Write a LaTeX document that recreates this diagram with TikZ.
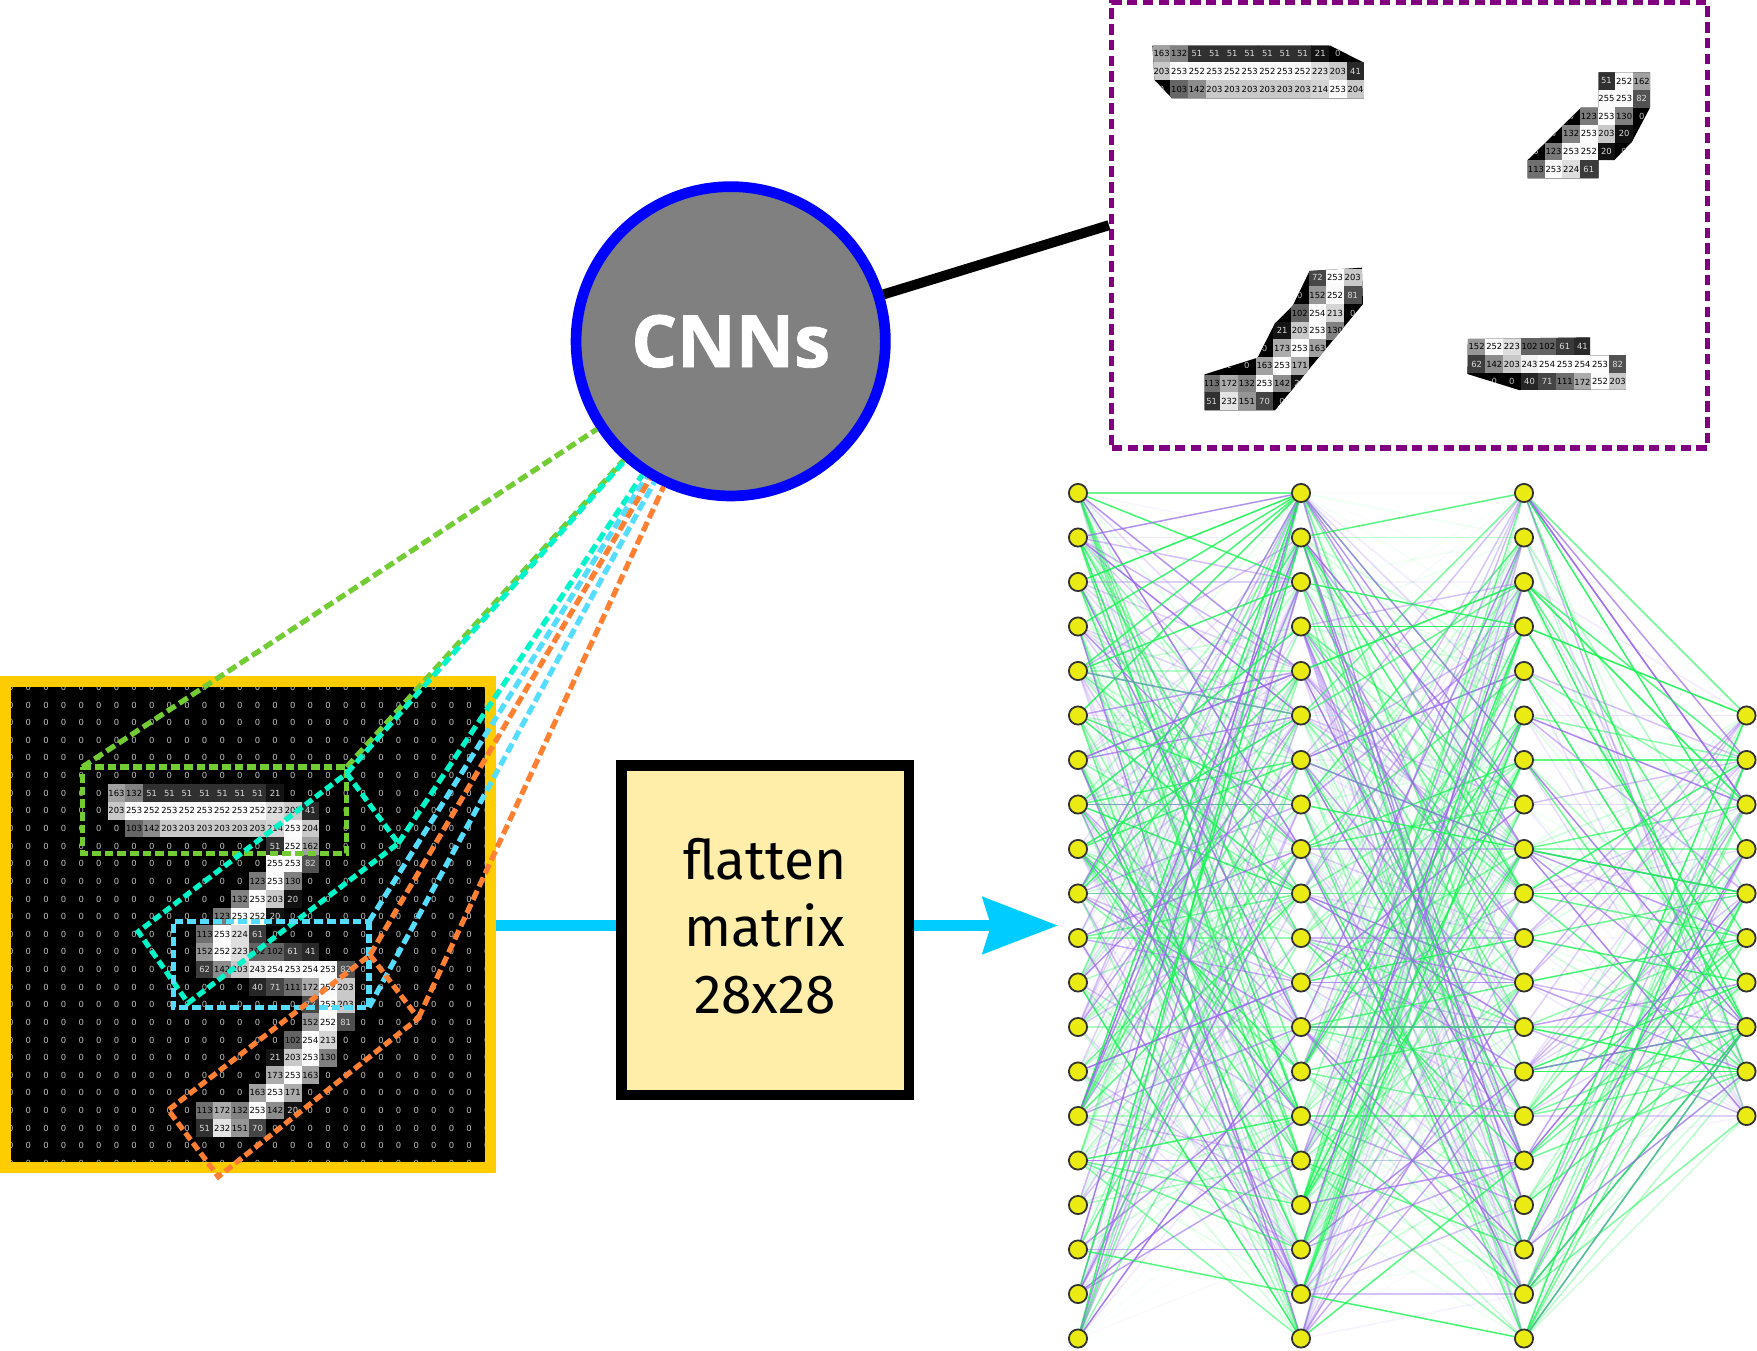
\documentclass[tikz,border=0pt]{standalone}
\usepackage{fontspec}
\setmainfont{Fira Sans}
\newfontfamily\cellfont{DejaVu Sans}
\newfontfamily\cnnfont[BoldFeatures={FakeBold=1.2}]{Open Sans}
\usetikzlibrary{arrows.meta,backgrounds}

\definecolor{frameyellow}{HTML}{FFCC00}
\definecolor{boxyellow}{HTML}{FFEEAA}
\definecolor{arrowblue}{HTML}{00CCFF}
\definecolor{panelpurple}{HTML}{800080}
\definecolor{dashgreen}{HTML}{73CC33}
\definecolor{dashteal}{HTML}{00F5C8}
\definecolor{dashblue}{HTML}{55DDFF}
\definecolor{dashorange}{HTML}{FF8033}
\definecolor{wgreen}{HTML}{14F550}
\definecolor{wpurple}{HTML}{9966EE}
\definecolor{neuronfill}{HTML}{EBEB14}
\definecolor{celllight}{gray}{0.85}
\definecolor{zerogray}{gray}{0.75}

\tikzset{
  zerocell/.style={text=zerogray, inner sep=0pt, font=\cellfont\fontsize{8.4}{8.4}\selectfont},
  valcell/.style={minimum size=17.8pt, inner sep=0pt, outer sep=0pt, font=\cellfont\fontsize{8.4}{8.4}\selectfont},
  roidash/.style={line width=5.2pt, dash pattern=on 8.7pt off 4pt},
  roiline/.style={line width=5.2pt, dash pattern=on 10pt off 4.5pt},
  neuron/.style={circle, draw=black!80, fill=neuronfill, line width=1.8pt, minimum size=18.2pt, inner sep=0pt},
  wg/.style={draw=wgreen, line width=1.5pt},
  wp/.style={draw=wpurple, line width=1.5pt}
}

% rows of the digit: row/first column/values
\def\digitrows{6/6/{163,132,51,51,51,51,51,51,51,21},
  7/6/{203,253,252,253,252,253,252,253,252,223,203,41},
  8/7/{103,142,203,203,203,203,203,203,214,253,204},
  9/15/{51,252,162},
  10/15/{255,253,82},
  11/14/{123,253,130},
  12/13/{132,253,203,20},
  13/12/{123,253,252,20},
  14/11/{113,253,224,61},
  15/11/{152,252,223,102,102,61,41},
  16/11/{62,142,203,243,254,253,254,253,82},
  17/14/{40,71,111,172,252,203},
  18/17/{72,253,203},
  19/17/{152,252,81},
  20/16/{102,254,213},
  21/15/{21,203,253,130},
  22/15/{173,253,163},
  23/14/{163,253,171},
  24/11/{113,172,132,253,142,20},
  25/11/{51,232,151,70}}

% black ground with zeros and grey cells, rows #1..#2, columns #3..#4
\newcommand{\digitcells}[4]{%
  \foreach \r in {#1,...,#2}
    \foreach \c in {#3,...,#4}
      \node[zerocell] (zero-\r-\c) at ({10.7+\c*17.63},{687.4+\r*17.63}) {0};
  \foreach \rw/\cs/\vals in \digitrows {
    \foreach \v [count=\n from 0] in \vals {
      \pgfmathtruncatemacro\cc{\cs+\n}
      \pgfmathtruncatemacro\pct{\v/2.55}
      \pgfmathtruncatemacro\keep{(\rw>=#1)*(\rw<=#2)*(\cc>=#3)*(\cc<=#4)}
      \ifnum\keep=1
        \ifnum\v<102 \def\txtcol{celllight}\else\def\txtcol{black}\fi
        \node[valcell, fill=white!\pct!black, text=\txtcol] (val-\rw-\cc) at ({10.7+\cc*17.63},{687.4+\rw*17.63}) {\v};
      \fi
    }
  }
}

\begin{document}
\begin{tikzpicture}[x=1pt,y=-1pt]
\useasboundingbox (0,0) rectangle (1757,1350);

% digit image
\begin{scope}
\clip (5,682) rectangle (490,1167);
\fill[black] (5,682) rectangle (490,1167);
\digitcells{0}{27}{0}{27}
\end{scope}

% cut-outs in the panel
\begin{scope}
\clip (1152.4,45.7) -- (1330.4,45.7) -- (1363.9,62.7) -- (1363.9,98.3) -- (1172,98.3) -- (1154.5,80) -- cycle;
\fill[black] (1100,0) rectangle (1757,500);
\begin{scope}[shift={(1045.1,-739.5)}]
\digitcells{6}{8}{6}{17}
\end{scope}
\end{scope}
\begin{scope}
\clip (1598.5,72.3) -- (1650,72.3) -- (1650,107.7) -- (1632,141.7) -- (1614.5,160) -- (1598.5,160) -- (1598.5,178.3) -- (1527.7,178.3) -- (1527.7,160) -- (1581,107.7) -- (1598.5,107.7) -- cycle;
\fill[black] (1100,0) rectangle (1757,500);
\begin{scope}[shift={(1331.3,-765.1)}]
\digitcells{9}{14}{11}{17}
\end{scope}
\end{scope}
\begin{scope}
\clip (1309.5,271) -- (1361.8,267.7) -- (1363,304) -- (1275,410.3) -- (1204.7,410.3) -- (1204.7,374.3) -- (1257.5,357.7) -- (1275,323.3) -- (1292.7,305.7) -- cycle;
\fill[black] (1100,0) rectangle (1757,500);
\begin{scope}[shift={(1007,-727)}]
\digitcells{18}{25}{11}{19}
\end{scope}
\end{scope}
\begin{scope}
\clip (1467.8,339) -- (1590.2,337.3) -- (1590.2,355.3) -- (1625.8,355.3) -- (1625.8,389.3) -- (1519,390) -- (1467.4,374) -- cycle;
\fill[black] (1100,0) rectangle (1757,500);
\begin{scope}[shift={(1272,-605.2)}]
\digitcells{15}{17}{11}{19}
\end{scope}
\end{scope}

\node[draw=frameyellow, line width=11pt, minimum width=485pt, minimum height=486pt] (digit) at (248,924.5) {};
\node[draw=panelpurple, line width=5.5pt, dash pattern=on 10.5pt off 5.3pt, minimum width=595.8pt, minimum height=445.7pt] (panel) at (1409.6,225.2) {};
\node[circle, draw=blue, fill=black!50, line width=10.7pt, minimum size=309.3pt, text=white, font=\cnnfont\bfseries\fontsize{72}{72}\selectfont] (cnn) at (730.7,341.3) {CNNs};
\draw[line width=10pt] (cnn) -- (panel.west);

% regions and their lines to the circle
\coordinate (gA) at (82.3,767);
\coordinate (gB) at (346.7,767);
\coordinate (gC) at (346.7,853.3);
\coordinate (gD) at (82.3,853.3);
\draw[roidash, dashgreen] (gA) -- (gB) -- (gC) -- (gD) -- cycle;
\draw[roiline, dashgreen] (gA) -- (cnn);
\draw[roiline, dashgreen] (gB) -- (cnn);
\coordinate (tA) at (346.7,773.3);
\coordinate (tB) at (398.3,843.3);
\coordinate (tC) at (188,1003);
\coordinate (tD) at (138.3,931.7);
\draw[roidash, dashteal] (tA) -- (tB) -- (tC) -- (tD) -- cycle;
\draw[roiline, dashteal] (tA) -- (cnn);
\draw[roiline, dashteal] (tB) -- (cnn);
\coordinate (bA) at (369,921.7);
\coordinate (bB) at (369,1007.3);
\coordinate (bC) at (173.3,1007.3);
\coordinate (bD) at (173.3,921.7);
\draw[roidash, dashblue] (bA) -- (bB) -- (bC) -- (bD) -- cycle;
\draw[roiline, dashblue] (bA) -- (cnn);
\draw[roiline, dashblue] (bB) -- (cnn);
\coordinate (oA) at (370,955);
\coordinate (oB) at (418.3,1018.3);
\coordinate (oC) at (218.3,1176.7);
\coordinate (oD) at (168.3,1110);
\draw[roidash, dashorange] (oA) -- (oB) -- (oC) -- (oD) -- cycle;
\draw[roiline, dashorange] (oA) -- (cnn);
\draw[roiline, dashorange] (oB) -- (cnn);

% flatten step
\coordinate (tip) at (1058,925.5);
\draw[arrowblue, line width=10.7pt, -{Stealth[length=75pt,width=56pt,inset=8pt]}] (digit.east |- tip) -- (tip);
\node[draw=black, fill=boxyellow, line width=10.5pt, minimum width=287.5pt, minimum height=329.5pt, align=center, font=\fontsize{55}{67}\selectfont] (flatten) at (765,930) {flatten\hspace{14pt}\\matrix\\28x28\rule[-9pt]{0pt}{0pt}};

% network, the last layer sits on rows 6 to 15
\foreach \i in {1,...,20} {
  \node[neuron] (a\i) at (1078,{493+(\i-1)*44.5}) {};
  \node[neuron] (b\i) at (1301,{493+(\i-1)*44.5}) {};
  \node[neuron] (c\i) at (1524,{493+(\i-1)*44.5}) {};
}
\foreach \i in {6,...,15}
  \node[neuron] (d\i) at (1746.5,{493+(\i-1)*44.5}) {};

\begin{scope}[on background layer]
\pgfmathsetseed{4217}
\foreach \lft/\rgt/\kfirst/\klast in {a/b/1/20,b/c/1/20,c/d/6/15}
  \foreach \j in {1,...,20}
    \foreach \k in {\kfirst,...,\klast} {
      \pgfmathsetmacro\wgt{0.9*rnd^2.6}
      \pgfmathtruncatemacro\sgn{rnd<0.55}
      \pgfmathtruncatemacro\quiet{((\j<5)*(\k<5))+((\j>16)*(\k>16))}
      \ifnum\quiet>0 \pgfmathsetmacro\wgt{\wgt*0.1}\fi
      \ifnum\sgn=1
        \draw[wg, opacity=\wgt] (\lft\j) -- (\rgt\k);
      \else
        \draw[wp, opacity=\wgt] (\lft\j) -- (\rgt\k);
      \fi
    }
\foreach \from/\to/\kind/\wgt in {
  a1/b1/wg/.6, a1/b3/wg/.8, a2/b1/wp/.7, a2/b2/wp/.15, a2/b3/wp/.4, a3/b1/wg/.9, a3/b3/wp/.3,
  a4/b1/wg/.8, a5/b1/wg/.7, a5/b3/wg/.8, a5/b5/wg/.3, a5/b6/wp/.5, a7/b5/wp/.7, a8/b8/wg/.3,
  a8/b4/wg/.8, a9/b6/wg/.8, a10/b1/wp/.7, a10/b10/wg/.5, a14/b12/wp/.6, a16/b15/wg/.8,
  a16/b16/wp/.7, a18/b18/wp/.5, a18/b19/wg/.7,
  b1/c7/wp/.7, b2/c1/wg/.7, b2/c2/wg/.25, b3/c4/wg/.8, b4/c4/wg/.9, b4/c3/wp/.4, b5/c3/wg/.5,
  b7/c9/wp/.7, b8/c9/wg/.8, b9/c8/wg/.5, b9/c9/wp/.15, b10/c10/wg/.6, b11/c12/wp/.6,
  b12/c12/wp/.3, b13/c13/wp/.3, b13/c14/wg/.5, b16/c16/wp/.3, b17/c16/wp/.5, b19/c19/wp/.4,
  b19/c20/wg/.8, b19/c17/wp/.4,
  c1/d6/wg/.6, c1/d8/wp/.6, c1/d7/wp/.7, c3/d7/wg/.6, c3/d8/wg/.7, c4/d6/wg/.9, c5/d7/wp/.4,
  c9/d9/wg/.45, c10/d10/wg/.9, c9/d10/wg/.9, c10/d7/wg/.8, c14/d13/wp/.7, c14/d14/wg/.9,
  c15/d15/wp/.3, c15/d14/wg/.4, c16/d14/wg/.4, c13/d13/wg/.3, c19/d13/wg/.8, c18/d14/wp/.7,
  c20/d13/wg/.6, c17/d13/wg/.7}
  \draw[\kind, opacity=\wgt] (\from) -- (\to);
\end{scope}
\end{tikzpicture}
\end{document}
